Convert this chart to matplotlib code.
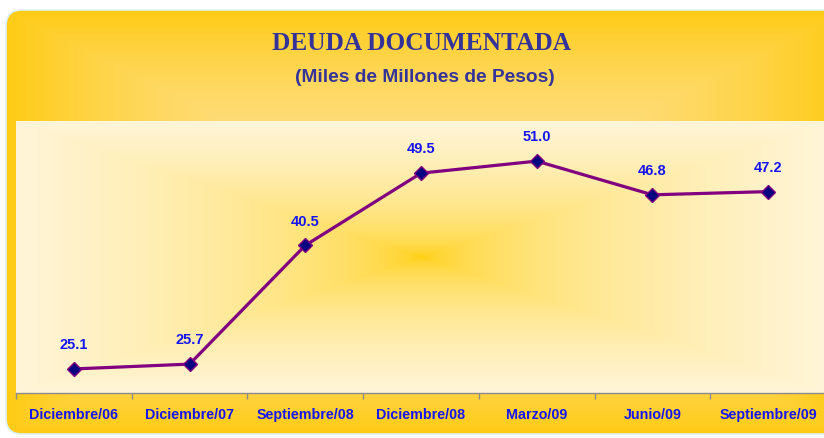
import matplotlib
matplotlib.use("Agg")
import matplotlib.pyplot as plt
import numpy as np
from matplotlib.patches import FancyBboxPatch
from matplotlib.colors import to_rgb

# chart data
periods = ["Diciembre/06", "Diciembre/07", "Septiembre/08", "Diciembre/08",
           "Marzo/09", "Junio/09", "Septiembre/09"]
deuda = [25.1, 25.7, 40.5, 49.5, 51.0, 46.8, 47.2]

title_color = "#333399"
label_color = "#1515F0"


def rect_gradient(w, h, c_center, c_edge, power):
    # "from center" gradient: rectangular contours
    xs = np.linspace(-1, 1, w)
    ys = np.linspace(-1, 1, h)
    gx, gy = np.meshgrid(xs, ys)
    t = np.maximum(np.abs(gx), np.abs(gy)) ** power
    c0 = np.array(to_rgb(c_center))
    c1 = np.array(to_rgb(c_edge))
    return c0 + (c1 - c0) * t[..., None]


fig = plt.figure(figsize=(8.24, 4.38), dpi=100)

# outer rounded yellow panel
bg = fig.add_axes([0, 0, 1, 1], zorder=-2)
bg.set_xlim(0, 824)
bg.set_ylim(0, 438)
bg.axis("off")
box = FancyBboxPatch((6, 4), 840, 424, boxstyle="round,pad=0,rounding_size=16",
                     facecolor="none", edgecolor="#DDF2F6", linewidth=1.2)
bg.add_patch(box)
img = bg.imshow(rect_gradient(300, 200, "#FEE08E", "#FFCB14", 2.2),
                extent=[6, 846, 4, 428], aspect="auto", origin="lower",
                interpolation="bilinear")
img.set_clip_path(box)

# plot area
ax = fig.add_axes([16 / 824, 45 / 438, 810 / 824, 272 / 438])
ax.set_xlim(-0.5, 6.5)
ax.set_ylim(22.1, 56.0)
ax.imshow(rect_gradient(300, 200, "#FFCC00", "#FFF5D8", 0.45),
          extent=[-0.5, 6.5, 22.1, 56.0], aspect="auto", origin="lower",
          interpolation="bilinear", zorder=0)
ax.patch.set_visible(False)

x = np.arange(len(periods))
ax.plot(x, deuda, color="#800080", linewidth=2.3, marker="D", markersize=7.5,
        markerfacecolor="#000080", markeredgecolor="#800080",
        markeredgewidth=1.0, zorder=3)

for xi, v in zip(x, deuda):
    ax.annotate(f"{v:.1f}", (xi, v), xytext=(0, 12), textcoords="offset points",
                ha="center", va="bottom", color=label_color, fontsize=10.5,
                fontweight="bold", family="Liberation Sans")

for side in ["top", "left", "right"]:
    ax.spines[side].set_visible(False)
ax.spines["bottom"].set_color("#8C8C8C")
ax.spines["bottom"].set_linewidth(1.0)
ax.set_yticks([])
ax.set_xticks(np.arange(-0.5, 7, 1.0))
ax.set_xticklabels([])
ax.tick_params(axis="x", which="major", length=4, color="#8C8C8C", width=1)
ax.set_xticks(x, minor=True)
ax.set_xticklabels(periods, minor=True)
ax.tick_params(axis="x", which="minor", length=0, pad=11)
for lbl in ax.get_xticklabels(minor=True):
    lbl.set_color(label_color)
    lbl.set_fontweight("bold")
    lbl.set_fontsize(10.3)
    lbl.set_family("Liberation Sans")

fig.text(422 / 824, 1 - 44 / 438, "DEUDA DOCUMENTADA", ha="center", va="center",
         family="Liberation Serif", fontweight="bold", fontsize=18.3,
         color=title_color)
fig.text(425 / 824, 1 - 77 / 438, "(Miles de Millones de Pesos)", ha="center",
         va="center", family="Liberation Sans", fontweight="bold", fontsize=13.8,
         color=title_color)

fig.savefig("out.png", dpi=100)
